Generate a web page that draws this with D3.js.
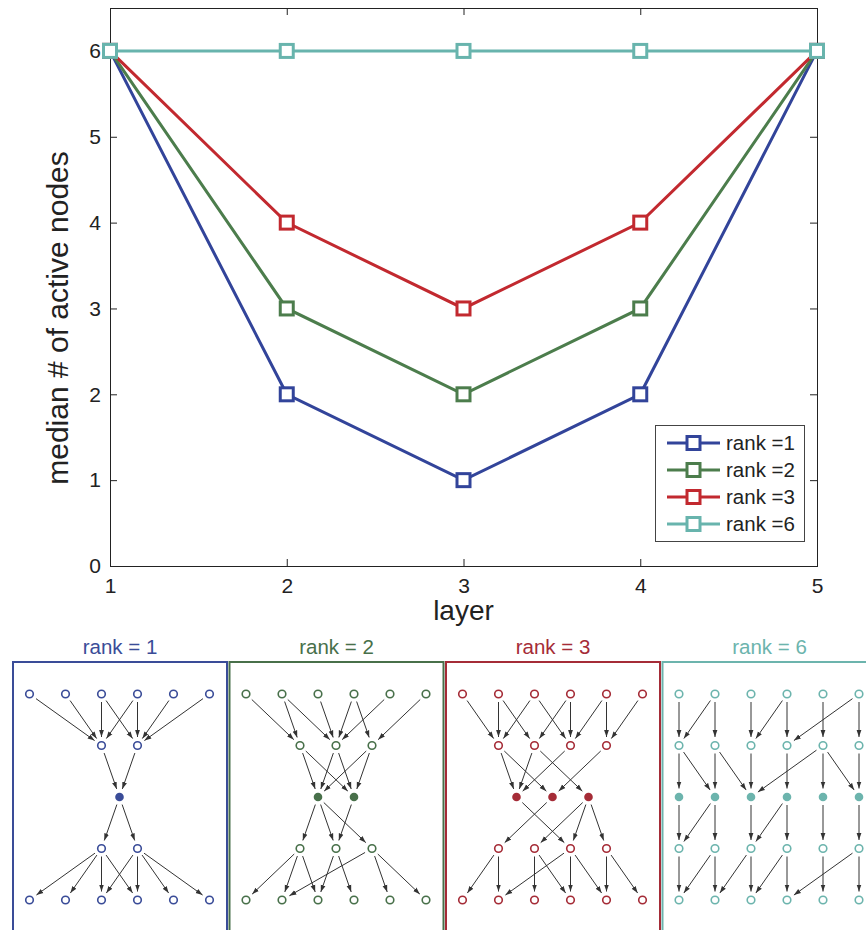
<html>
<head>
<meta charset='UTF-8'>
<title>median active nodes per layer</title>
<script src='https://d3js.org/d3.v7.min.js'></script>
<style>
    body { margin: 0; background: #fff; }
    text { font-family: 'Liberation Sans', Arial, sans-serif; fill: #222; }
</style>
</head>
<body>
<svg width="866" height="930" id="fig"></svg>

<script type='text/javascript'>
    // ---- line chart data ----
    var layers = [1, 2, 3, 4, 5];
    var rankNames = ['rank =1', 'rank =2', 'rank =3', 'rank =6'];
    var rank1 = [6, 2, 1, 2, 6];
    var rank2 = [6, 3, 2, 3, 6];
    var rank3 = [6, 4, 3, 4, 6];
    var rank6 = [6, 6, 6, 6, 6];
    var yTicks = [0, 1, 2, 3, 4, 5, 6];
    var lineColors = ['#32449a', '#4c7d4c', '#c2292f', '#68b4ad'];

    // ---- network panels: active columns per layer, edges as [fromLayer, fromCol, toCol] ----
    var panelTitles = ['rank = 1', 'rank = 2', 'rank = 3', 'rank = 6'];
    var panelColors = ['#3a4c98', '#48704a', '#a52c37', '#6cb4ad'];
    var all6 = [0, 1, 2, 3, 4, 5];
    var nodes1 = [all6, [2, 3], [2.5], [2, 3], all6];
    var nodes2 = [all6, [1.5, 2.5, 3.5], [2, 3], [1.5, 2.5, 3.5], all6];
    var nodes3 = [all6, [1, 2, 3, 4], [1.5, 2.5, 3.5], [1, 2, 3, 4], all6];
    var nodes6 = [all6, all6, all6, all6, all6];
    var edges1 = [
        [1,0,2],[1,1,2],[1,2,2],[1,2,3],[1,3,2],[1,3,3],[1,4,3],[1,5,3],
        [2,2,2.5],[2,3,2.5],
        [3,2.5,2],[3,2.5,3],
        [4,2,0],[4,2,1],[4,2,2],[4,2,3],[4,3,2],[4,3,3],[4,3,4],[4,3,5]
    ];
    var edges2 = [
        [1,0,1.5],[1,1,1.5],[1,1,2.5],[1,2,2.5],[1,3,2.5],[1,3,3.5],[1,4,2.5],[1,5,3.5],
        [2,1.5,2],[2,1.5,3],[2,2.5,2],[2,2.5,3],[2,3.5,2],[2,3.5,3],
        [3,2,1.5],[3,2,2.5],[3,2,3.5],[3,3,2.5],
        [4,1.5,0],[4,1.5,1],[4,1.5,2],[4,2.5,2],[4,2.5,3],[4,3.5,1],[4,3.5,4],[4,3.5,5]
    ];
    var edges3 = [
        [1,0,1],[1,1,1],[1,1,2],[1,2,1],[1,2,3],[1,3,2],[1,3,3],[1,4,3],[1,4,4],[1,5,4],
        [2,1,1.5],[2,1,2.5],[2,2,1.5],[2,2,3.5],[2,3,1.5],[2,4,2.5],
        [3,1.5,3],[3,2.5,1],[3,3.5,2],[3,3.5,3],[3,3.5,4],
        [4,1,0],[4,1,1],[4,2,2],[4,2,3],[4,3,1],[4,3,3],[4,3,4],[4,4,4],[4,4,5]
    ];
    var edges6 = [
        [1,0,0],[1,1,1],[1,2,2],[1,3,3],[1,4,4],[1,5,5],[1,1,0],[1,3,2],[1,5,3],
        [2,0,0],[2,1,1],[2,2,2],[2,3,3],[2,4,4],[2,5,5],[2,0,1],[2,1,2],[2,4,2],[2,4,5],
        [3,0,0],[3,1,1],[3,2,2],[3,3,3],[3,4,4],[3,5,5],[3,1,0],[3,3,2],
        [4,0,0],[4,1,1],[4,2,2],[4,3,3],[4,4,4],[4,5,5],[4,1,0],[4,2,1],[4,3,2],[4,5,3]
    ];

    var series = [rank1, rank2, rank3, rank6];
    var panelNodes = [nodes1, nodes2, nodes3, nodes6];
    var panelEdges = [edges1, edges2, edges3, edges6];

    var svg = d3.select('#fig');

    // ---------------- line chart ----------------
    var plotLeft = 110, plotRight = 817, plotTop = 8, plotBottom = 566;

    var x = d3.scaleLinear().domain([1, 5]).range([plotLeft, plotRight]);
    var y = d3.scaleLinear().domain([0, 6.5]).range([plotBottom, plotTop]);

    var chart = svg.append('g');

    chart.append('rect')
         .attr('x', plotLeft + 0.5).attr('y', plotTop + 0.5)
         .attr('width', plotRight - plotLeft).attr('height', plotBottom - plotTop)
         .attr('fill', 'none').attr('stroke', '#222');

    chart.append('g')
         .attr('transform', 'translate(0,' + plotBottom + ')')
         .call(d3.axisBottom(x).tickValues(layers).tickFormat(d3.format('d'))
                 .tickSize(-7).tickSizeOuter(0).tickPadding(12));
    chart.append('g')
         .attr('transform', 'translate(0,' + plotTop + ')')
         .call(d3.axisTop(x).tickValues(layers).tickFormat('').tickSize(-7).tickSizeOuter(0));
    chart.append('g')
         .attr('transform', 'translate(' + plotLeft + ',0)')
         .call(d3.axisLeft(y).tickValues(yTicks).tickFormat(d3.format('d'))
                 .tickSize(-7).tickSizeOuter(0).tickPadding(9));
    chart.append('g')
         .attr('transform', 'translate(' + plotRight + ',0)')
         .call(d3.axisRight(y).tickValues(yTicks).tickFormat('').tickSize(-7).tickSizeOuter(0));

    chart.selectAll('.domain').attr('stroke', '#222');
    chart.selectAll('.tick line').attr('stroke', '#222');
    chart.selectAll('.tick text').style('font-size', '21px').attr('fill', '#222');

    var line = d3.line()
                 .x(function(d, i) { return x(layers[i]); })
                 .y(function(d) { return y(d); });

    series.forEach(function(vals, k) {
        var g = chart.append('g');
        g.append('path')
         .attr('d', line(vals))
         .attr('fill', 'none')
         .attr('stroke', lineColors[k])
         .attr('stroke-width', 3);
        g.selectAll('rect')
         .data(vals)
         .enter()
         .append('rect')
           .attr('x', function(d, i) { return x(layers[i]) - 6.5; })
           .attr('y', function(d) { return y(d) - 6.5; })
           .attr('width', 13)
           .attr('height', 13)
           .attr('fill', '#fff')
           .attr('stroke', lineColors[k])
           .attr('stroke-width', 3);
    });

    // legend
    var legend = chart.append('g');
    legend.append('rect')
          .attr('x', 655.5).attr('y', 425.5).attr('width', 149).attr('height', 116)
          .attr('fill', '#fff').attr('stroke', '#444').attr('stroke-width', 1);

    var item = legend.selectAll('g.item')
          .data(rankNames)
          .enter().append('g')
          .attr('class', 'item')
          .attr('transform', function(d, i) { return 'translate(0,' + (443 + i * 27) + ')'; });

    item.append('line')
        .attr('x1', 667).attr('x2', 720)
        .attr('stroke', function(d, i) { return lineColors[i]; })
        .attr('stroke-width', 3);
    item.append('rect')
        .attr('x', 687).attr('y', -6.5).attr('width', 13).attr('height', 13)
        .attr('fill', '#fff')
        .attr('stroke', function(d, i) { return lineColors[i]; })
        .attr('stroke-width', 3);
    item.append('text')
        .attr('x', 726).attr('dy', '0.36em')
        .style('font-size', '20.5px')
        .text(function(d) { return d; });

    // axis labels
    chart.append('text')
         .attr('x', (plotLeft + plotRight) / 2).attr('y', 620)
         .attr('text-anchor', 'middle')
         .style('font-size', '28px')
         .text('layer');
    chart.append('text')
         .attr('transform', 'translate(68,318) rotate(-90)')
         .attr('text-anchor', 'middle')
         .style('font-size', '30px')
         .text('median # of active nodes');

    // ---------------- network panels ----------------
    var defs = svg.append('defs');
    defs.append('marker')
        .attr('id', 'arrow')
        .attr('markerUnits', 'userSpaceOnUse')
        .attr('viewBox', '0 -3 7 6')
        .attr('refX', 7).attr('refY', 0)
        .attr('markerWidth', 7).attr('markerHeight', 6)
        .attr('orient', 'auto')
      .append('path')
        .attr('d', 'M0,-2.4L7,0L0,2.4Z')
        .attr('fill', '#333');

    var panelX = d3.scaleLinear().domain([0, 1]).range([13, 229.5]);
    var rowY = d3.scaleLinear().domain([1, 5]).range([694, 900]);

    panelTitles.forEach(function(title, p) {
        var x0 = panelX(p);
        var colX = d3.scaleLinear().domain([0, 5]).range([x0 + 16.5, x0 + 196.5]);
        var color = panelColors[p];
        var g = svg.append('g');

        g.append('rect')
         .attr('x', x0).attr('y', 662)
         .attr('width', 214).attr('height', 300)
         .attr('fill', 'none').attr('stroke', color).attr('stroke-width', 2);

        g.append('text')
         .attr('x', x0 + 107).attr('y', 654)
         .attr('text-anchor', 'middle')
         .style('font-size', '20.5px')
         .style('fill', color)
         .text(title);

        // edges, shortened at both ends
        g.selectAll('line')
         .data(panelEdges[p])
         .enter()
         .append('line')
           .each(function(e) {
               var xa = colX(e[1]), ya = rowY(e[0]);
               var xb = colX(e[2]), yb = rowY(e[0] + 1);
               var dx = xb - xa, dy = yb - ya, len = Math.sqrt(dx * dx + dy * dy);
               var s0 = 8, s1 = 8.5;
               d3.select(this)
                 .attr('x1', xa + dx * s0 / len).attr('y1', ya + dy * s0 / len)
                 .attr('x2', xb - dx * s1 / len).attr('y2', yb - dy * s1 / len);
           })
           .attr('stroke', '#333')
           .attr('stroke-width', 1)
           .attr('marker-end', 'url(#arrow)');

        // nodes
        panelNodes[p].forEach(function(cols, li) {
            var layer = li + 1;
            g.selectAll('circle.l' + layer)
             .data(cols)
             .enter()
             .append('circle')
               .attr('class', 'l' + layer)
               .attr('cx', function(c) { return colX(c); })
               .attr('cy', rowY(layer))
               .attr('r', layer === 3 ? 4.3 : 3.8)
               .attr('fill', layer === 3 ? color : '#fff')
               .attr('stroke', color)
               .attr('stroke-width', layer === 3 ? 0 : 1.6);
        });
    });
</script>
</body>
</html>
